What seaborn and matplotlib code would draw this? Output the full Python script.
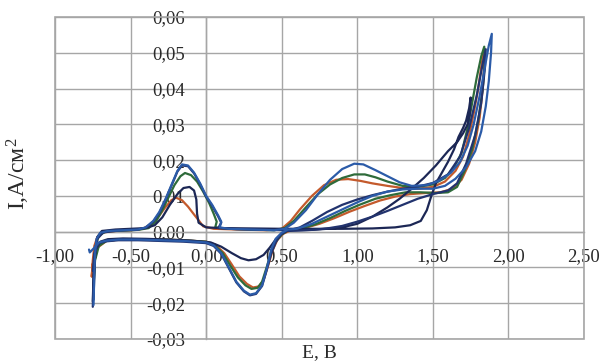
import matplotlib
matplotlib.use("Agg")
import matplotlib.pyplot as plt
import seaborn as sns
import pandas as pd
from matplotlib.patches import Rectangle

# ---------------- data ----------------
x_ticks = [-1.0, -0.5, 0.0, 0.5, 1.0, 1.5, 2.0, 2.5]
x_tick_labels = ["-1,00", "-0,50", "0,00", "0,50", "1,00", "1,50", "2,00", "2,50"]
y_ticks = [-0.03, -0.02, -0.01, 0.0, 0.01, 0.02, 0.03, 0.04, 0.05, 0.06]
y_tick_labels = ["-0,03", "-0,02", "-0,01", "0,00", "0,01", "0,02", "0,03", "0,04", "0,05", "0,06"]

orange_E = [-0.757, -0.75, -0.74, -0.72, -0.68, -0.60, -0.50, -0.42, -0.36, -0.31, -0.27, -0.23, -0.20, -0.16,
            -0.12, -0.08, -0.05, -0.02, 0.05, 0.20, 0.40, 0.50, 0.56, 0.62, 0.70, 0.78, 0.86, 0.94, 1.02,
            1.10, 1.20, 1.30, 1.40, 1.50, 1.58, 1.65, 1.70, 1.74, 1.77, 1.80, 1.82, 1.835, 1.84, 1.83,
            1.81, 1.78, 1.74, 1.69, 1.63, 1.55, 1.45, 1.35, 1.25, 1.15, 1.05, 0.95, 0.85, 0.75, 0.65,
            0.56, 0.51, 0.47, 0.44, 0.41, 0.38, 0.35, 0.31, 0.27, 0.22, 0.17, 0.12, 0.06, 0.00, -0.15,
            -0.30, -0.45, -0.58, -0.66, -0.72, -0.75, -0.757]
orange_I = [-0.0125, -0.008, -0.004, -0.0015, -0.0002, 0.0002, 0.0004, 0.0008, 0.0022, 0.0045, 0.0068, 0.0088,
            0.0095, 0.0088, 0.0070, 0.0048, 0.0032, 0.0015, 0.0008, 0.0006, 0.0004, 0.0008, 0.0030, 0.0062,
            0.0100, 0.0130, 0.0145, 0.0147, 0.0142, 0.0135, 0.0128, 0.0122, 0.0120, 0.0125, 0.0140, 0.0170,
            0.0210, 0.0270, 0.0330, 0.0400, 0.0460, 0.0500, 0.0470, 0.0400, 0.0320, 0.0250, 0.0190, 0.0145,
            0.0120, 0.0110, 0.0108, 0.0105, 0.0098, 0.0087, 0.0072, 0.0056, 0.0038, 0.0022, 0.0010, 0.0004,
            -0.0006, -0.0024, -0.0052, -0.0095, -0.0135, -0.0153, -0.0156, -0.0146, -0.0125, -0.0092, -0.0060,
            -0.0036, -0.0028, -0.0024, -0.0022, -0.0021, -0.0022, -0.0026, -0.0045, -0.0090, -0.0125]

green_E = [-0.745, -0.74, -0.73, -0.71, -0.66, -0.55, -0.45, -0.38, -0.33, -0.29, -0.25, -0.21, -0.17, -0.14,
           -0.10, -0.06, -0.02, 0.02, 0.05, 0.07, 0.06, 0.15, 0.30, 0.45, 0.52, 0.58, 0.66, 0.74, 0.82, 0.90,
           0.98, 1.05, 1.12, 1.20, 1.30, 1.40, 1.50, 1.58, 1.64, 1.69, 1.73, 1.76, 1.79, 1.82, 1.84, 1.845,
           1.83, 1.80, 1.76, 1.71, 1.66, 1.60, 1.52, 1.42, 1.32, 1.22, 1.12, 1.02, 0.92, 0.82, 0.72, 0.62,
           0.54, 0.50, 0.46, 0.43, 0.40, 0.37, 0.34, 0.30, 0.26, 0.21, 0.16, 0.11, 0.05, 0.00, -0.15, -0.30,
           -0.45, -0.58, -0.66, -0.71, -0.735, -0.745]
green_I = [-0.0170, -0.0100, -0.0040, -0.0010, 0.0001, 0.0003, 0.0005, 0.0010, 0.0030, 0.0060, 0.0095, 0.0130,
           0.0155, 0.0164, 0.0158, 0.0140, 0.0112, 0.0080, 0.0050, 0.0028, 0.0012, 0.0008, 0.0006, 0.0004,
           0.0010, 0.0030, 0.0068, 0.0105, 0.0132, 0.0150, 0.0160, 0.0160, 0.0152, 0.0140, 0.0128, 0.0125,
           0.0132, 0.0150, 0.0180, 0.0220, 0.0290, 0.0360, 0.0430, 0.0490, 0.0517, 0.0480, 0.0400, 0.0310,
           0.0230, 0.0170, 0.0125, 0.0110, 0.0108, 0.0110, 0.0110, 0.0102, 0.0092, 0.0076, 0.0058, 0.0038,
           0.0020, 0.0008, 0.0003, -0.0008, -0.0028, -0.0058, -0.0100, -0.0140, -0.0157, -0.0160, -0.0150,
           -0.0128, -0.0095, -0.0060, -0.0036, -0.0028, -0.0024, -0.0022, -0.0021, -0.0022, -0.0026, -0.0040,
           -0.0080, -0.0150]

navy_E = [-0.745, -0.74, -0.735, -0.72, -0.69, -0.60, -0.50, -0.40, -0.34, -0.29, -0.24, -0.19, -0.15, -0.11,
          -0.08, -0.065, -0.06, -0.05, 0.00, 0.10, 0.30, 0.50, 0.70, 0.90, 1.10, 1.25, 1.35, 1.42, 1.46, 1.49,
          1.52, 1.56, 1.60, 1.64, 1.67, 1.70, 1.72, 1.74, 1.75, 1.745, 1.73, 1.70, 1.66, 1.60, 1.52, 1.44,
          1.36, 1.28, 1.20, 1.10, 1.00, 0.90, 0.80, 0.70, 0.60, 0.54, 0.50, 0.46, 0.42, 0.38, 0.33, 0.28,
          0.23, 0.17, 0.10, 0.03, -0.10, -0.25, -0.40, -0.55, -0.65, -0.70, -0.73, -0.745, -0.75]
navy_I = [-0.0190, -0.0120, -0.0050, -0.0015, 0.0002, 0.0006, 0.0008, 0.0010, 0.0018, 0.0040, 0.0075, 0.0105,
          0.0122, 0.0125, 0.0115, 0.0090, 0.0050, 0.0025, 0.0012, 0.0010, 0.0009, 0.0008, 0.0008, 0.0008,
          0.0009, 0.0012, 0.0018, 0.0030, 0.0060, 0.0100, 0.0135, 0.0165, 0.0195, 0.0230, 0.0265, 0.0290,
          0.0310, 0.0345, 0.0375, 0.0330, 0.0300, 0.0275, 0.0250, 0.0225, 0.0185, 0.0150, 0.0120, 0.0092,
          0.0068, 0.0042, 0.0022, 0.0012, 0.0008, 0.0005, 0.0004, 0.0003, -0.0005, -0.0022, -0.0045, -0.0065,
          -0.0077, -0.0080, -0.0074, -0.0060, -0.0042, -0.0030, -0.0025, -0.0022, -0.0020, -0.0019, -0.0021,
          -0.0028, -0.0050, -0.0120, -0.0195]

navy2_E = [-0.75, -0.745, -0.735, -0.72, -0.68, -0.58, -0.46, -0.40, -0.35, -0.31, -0.27, -0.23, -0.19, -0.16,
           -0.12, -0.08, -0.04, 0.00, 0.04, 0.08, 0.10, 0.08, 0.20, 0.40, 0.55, 0.62, 0.70, 0.80, 0.90, 1.00,
           1.10, 1.20, 1.30, 1.40, 1.50, 1.60, 1.68, 1.74, 1.79, 1.83, 1.85, 1.845, 1.82, 1.78, 1.72, 1.66,
           1.60, 1.50, 1.40, 1.30, 1.20, 1.10, 1.00, 0.90, 0.80, 0.70, 0.60, 0.53, 0.49, 0.46, 0.43, 0.40,
           0.37, 0.33, 0.29, 0.25, 0.20, 0.15, 0.10, 0.05, 0.00, -0.15, -0.30, -0.45, -0.58, -0.66, -0.71,
           -0.74, -0.75]
navy2_I = [-0.0210, -0.0130, -0.0060, -0.0020, -0.0002, 0.0003, 0.0005, 0.0011, 0.0028, 0.0052, 0.0088, 0.0128,
           0.0168, 0.0185, 0.0183, 0.0163, 0.0133, 0.0098, 0.0072, 0.0042, 0.0025, 0.0010, 0.0007, 0.0005,
           0.0004, 0.0012, 0.0030, 0.0055, 0.0075, 0.0090, 0.0102, 0.0112, 0.0120, 0.0126, 0.0136, 0.0160,
           0.0210, 0.0290, 0.0380, 0.0470, 0.0510, 0.0460, 0.0360, 0.0270, 0.0190, 0.0135, 0.0115, 0.0105,
           0.0092, 0.0075, 0.0058, 0.0042, 0.0028, 0.0016, 0.0009, 0.0005, 0.0003, 0.0002, -0.0010, -0.0030,
           -0.0062, -0.0108, -0.0152, -0.0174, -0.0178, -0.0167, -0.0142, -0.0102, -0.0062, -0.0040, -0.0032,
           -0.0028, -0.0026, -0.0024, -0.0024, -0.0027, -0.0032, -0.0060, -0.0110]

blue_E = [-0.745, -0.74, -0.735, -0.725, -0.70, -0.65, -0.55, -0.45, -0.40, -0.35, -0.31, -0.27, -0.23, -0.19,
          -0.16, -0.12, -0.08, -0.04, 0.00, 0.04, 0.08, 0.10, 0.09, 0.15, 0.30, 0.45, 0.52, 0.58, 0.66, 0.74,
          0.82, 0.90, 0.98, 1.04, 1.12, 1.20, 1.28, 1.36, 1.46, 1.54, 1.62, 1.68, 1.73, 1.77, 1.81, 1.84,
          1.87, 1.89, 1.885, 1.87, 1.85, 1.82, 1.78, 1.72, 1.65, 1.58, 1.50, 1.40, 1.30, 1.20, 1.10, 1.00,
          0.90, 0.80, 0.70, 0.60, 0.54, 0.50, 0.46, 0.43, 0.40, 0.37, 0.33, 0.29, 0.25, 0.20, 0.15, 0.10,
          0.05, 0.00, -0.15, -0.30, -0.45, -0.58, -0.66, -0.71, -0.74, -0.77, -0.775]
blue_I = [-0.0205, -0.0120, -0.0060, -0.0020, -0.0003, 0.0002, 0.0004, 0.0006, 0.0012, 0.0030, 0.0055, 0.0090,
          0.0130, 0.0170, 0.0188, 0.0185, 0.0165, 0.0135, 0.0100, 0.0075, 0.0045, 0.0028, 0.0012, 0.0008,
          0.0006, 0.0004, 0.0008, 0.0025, 0.0060, 0.0105, 0.0145, 0.0175, 0.0190, 0.0188, 0.0172, 0.0155,
          0.0138, 0.0128, 0.0130, 0.0142, 0.0165, 0.0195, 0.0240, 0.0300, 0.0380, 0.0450, 0.0520, 0.0553,
          0.0500, 0.0420, 0.0350, 0.0280, 0.0225, 0.0180, 0.0148, 0.0128, 0.0120, 0.0120, 0.0118, 0.0112,
          0.0100, 0.0082, 0.0062, 0.0042, 0.0022, 0.0008, 0.0006, -0.0003, -0.0020, -0.0050, -0.0105,
          -0.0150, -0.0172, -0.0176, -0.0165, -0.0140, -0.0100, -0.0060, -0.0038, -0.0030, -0.0026, -0.0024,
          -0.0022, -0.0022, -0.0025, -0.0030, -0.0045, -0.0058, -0.0050]

curve_names = ["orange", "green", "navy", "navy2", "blue"]
curve_colors = ["#c45a2c", "#2e6b3a", "#1c2755", "#22336e", "#2b5ba8"]

# ---------------- build table ----------------
frames = []
for name, E, I in [("orange", orange_E, orange_I), ("green", green_E, green_I),
                   ("navy", navy_E, navy_I), ("navy2", navy2_E, navy2_I),
                   ("blue", blue_E, blue_I)]:
    frames.append(pd.DataFrame({"E": E, "I": I, "curve": name}))
df = pd.concat(frames, ignore_index=True)

sns.set_style("white")
plt.rcParams["font.family"] = ["Liberation Serif", "DejaVu Serif"]
plt.rcParams["mathtext.fontset"] = "custom"
plt.rcParams["mathtext.rm"] = "Liberation Serif"
plt.rcParams["mathtext.it"] = "Liberation Serif:italic"

fig = plt.figure(figsize=(6.02, 3.63), dpi=100)
ax = fig.add_axes([55 / 602, (363 - 339) / 363, 529 / 602, 322 / 363])

sns.lineplot(data=df, x="E", y="I", hue="curve", units="curve", estimator=None, sort=False,
             hue_order=curve_names, palette=dict(zip(curve_names, curve_colors)),
             linewidth=1.6, legend=False, ax=ax, zorder=3)

grid_c = "#a6a6a6"
ax.set_xlim(-1.0, 2.5)
ax.set_ylim(-0.03, 0.06)
ax.set_xticks(x_ticks)
ax.set_xticklabels(x_tick_labels)
ax.set_yticks(y_ticks)
ax.set_yticklabels(y_tick_labels)
ax.grid(True, color=grid_c, linewidth=1.0)
ax.set_axisbelow(True)

for s in ["top", "right"]:
    ax.spines[s].set_visible(False)
ax.spines["left"].set_position(("data", 0))
ax.spines["bottom"].set_position(("data", 0))
for s in ["left", "bottom"]:
    ax.spines[s].set_color(grid_c)
    ax.spines[s].set_linewidth(1.0)
    ax.spines[s].set_zorder(1)
ax.add_patch(Rectangle((0, 0), 1, 1, transform=ax.transAxes, fill=False,
                       edgecolor=grid_c, linewidth=1.2, clip_on=False, zorder=1))

ax.tick_params(axis="x", length=0, pad=12, labelsize=13.5, colors="#2a2a2a")
ax.tick_params(axis="y", length=0, pad=15, labelsize=13.5, colors="#2a2a2a")
ax.set_xlabel("")
ax.set_ylabel("")

fig.text(18 / 602, 1 - 174 / 363, r"I,A/см$^2$", rotation=90, ha="center", va="center",
         fontsize=17, color="#2a2a2a")
fig.text(319 / 602, 1 - 353 / 363, "E, B", ha="center", va="center", fontsize=14, color="#2a2a2a")

fig.savefig("out.png", dpi=100, facecolor="white")
